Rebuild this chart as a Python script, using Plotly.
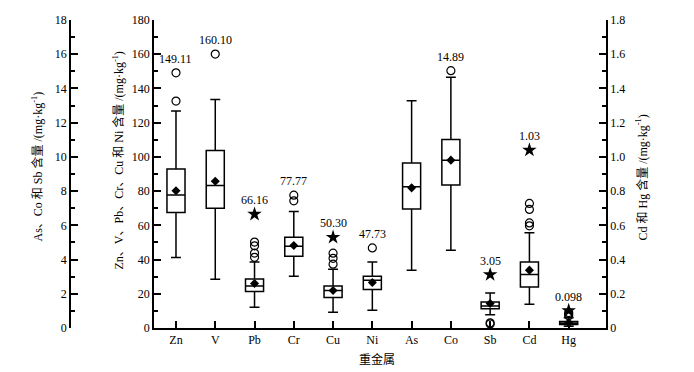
import plotly.graph_objects as go

# ---------------- data ----------------
elements = ["Zn", "V", "Pb", "Cr", "Cu", "Ni", "As", "Co", "Sb", "Cd", "Hg"]
axis_of = ["y", "y", "y", "y", "y", "y", "y2", "y2", "y2", "y3", "y3"]

q1 = [67.5, 70.0, 21.3, 42.0, 17.8, 22.5, 6.95, 8.35, 1.12, 0.24, 0.020]
median = [77.8, 83.3, 24.6, 47.8, 21.9, 27.9, 8.25, 9.81, 1.29, 0.312, 0.028]
q3 = [92.9, 103.8, 28.7, 53.1, 24.6, 30.3, 9.65, 11.02, 1.52, 0.386, 0.038]
lower_whisker = [41.2, 28.5, 12.1, 30.3, 9.2, 10.4, 3.38, 4.55, 0.78, 0.139, 0.010]
upper_whisker = [126.8, 133.6, 38.5, 68.1, 34.3, 38.6, 13.28, 14.65, 2.05, 0.556, 0.060]
mean = [80.2, 85.8, 26.0, 48.2, 21.9, 26.6, 8.19, 9.81, 1.43, 0.338, 0.030]

# outliers (open circles): (element index, value)
circle_el = [0, 0, 1, 2, 2, 2, 2, 3, 3, 4, 4, 4, 5, 7, 8, 8, 9, 9, 9, 9, 10, 10, 10]
circle_val = [149.11, 132.6, 160.10, 50.2, 48.0, 43.8, 41.3, 77.6, 74.3, 43.7, 40.7, 37.3,
              46.8, 15.04, 0.30, 0.24, 0.728, 0.693, 0.614, 0.597, 0.072, 0.082, 0.090]
# extreme values (stars)
star_el = [2, 4, 8, 9, 10]
star_val = [66.5, 53.0, 3.12, 1.04, 0.102]
# value labels
label_el = [0, 1, 2, 3, 4, 5, 7, 8, 9, 10]
label_val = [149.11, 160.10, 66.5, 77.6, 53.0, 46.8, 15.04, 3.12, 1.04, 0.102]
label_text = ["149.11", "160.10", "66.16", "77.77", "50.30", "47.73", "14.89", "3.05", "1.03", "0.098"]

FONT = "Liberation Serif, Times New Roman, Noto Sans CJK SC, serif"

fig = go.Figure()

for i, el in enumerate(elements):
    fig.add_trace(go.Box(
        x=[i], q1=[q1[i]], median=[median[i]], q3=[q3[i]],
        lowerfence=[lower_whisker[i]], upperfence=[upper_whisker[i]],
        width=0.46, whiskerwidth=0.55, boxpoints=False,
        line=dict(color="black", width=1.5), fillcolor="white",
        yaxis=axis_of[i], showlegend=False, hoverinfo="skip"))

for ax in ["y", "y2", "y3"]:
    idx = [i for i in range(len(elements)) if axis_of[i] == ax]
    fig.add_trace(go.Scatter(
        x=idx, y=[mean[i] for i in idx], mode="markers", yaxis=ax,
        marker=dict(symbol="diamond", size=7, color="black"), showlegend=False))
    ci = [k for k in range(len(circle_el)) if axis_of[circle_el[k]] == ax]
    fig.add_trace(go.Scatter(
        x=[circle_el[k] for k in ci], y=[circle_val[k] for k in ci], mode="markers", yaxis=ax,
        marker=dict(symbol="circle-open", size=8, color="black", line=dict(width=1.2)),
        showlegend=False))
    si = [k for k in range(len(star_el)) if axis_of[star_el[k]] == ax]
    fig.add_trace(go.Scatter(
        x=[star_el[k] for k in si], y=[star_val[k] for k in si], mode="markers", yaxis=ax,
        marker=dict(symbol="star", size=11, color="black"), showlegend=False))

for k in range(len(label_el)):
    ax = axis_of[label_el[k]]
    fig.add_annotation(x=label_el[k], y=label_val[k], xref="x", yref=ax,
                       text=label_text[k], showarrow=False, yshift=14,
                       xanchor="center", yanchor="middle",
                       font=dict(size=12, color="#000000", family=FONT))

axis_common = dict(showline=True, linecolor="black", linewidth=1.5, ticks="inside",
                   ticklen=7, tickwidth=1.5, tickcolor="black", showgrid=False,
                   zeroline=False, tickfont=dict(size=12, color="black", family=FONT))

# The page body adds an 8px offset, so the figure is sized/margined to compensate.
fig.update_layout(
    template="none",
    width=686, height=364,
    margin=dict(l=62, r=88, t=12, b=44),
    paper_bgcolor="white", plot_bgcolor="white",
    font=dict(family=FONT, size=12, color="black"),
    boxmode="overlay",
    xaxis=dict(domain=[84 / 536, 1], range=[-0.56, 10.95], tickmode="array",
               tickvals=list(range(len(elements))), ticktext=elements,
               **axis_common),
    yaxis=dict(range=[0, 180], dtick=20, anchor="x", side="left",
               minor=dict(dtick=10, ticks="inside", ticklen=4, tickwidth=1.5, tickcolor="black"),
               **axis_common),
    yaxis2=dict(range=[0, 18], dtick=2, anchor="free", position=0, side="left",
                overlaying="y",
                minor=dict(dtick=1, ticks="inside", ticklen=4, tickwidth=1.5, tickcolor="black"),
                **axis_common),
    yaxis3=dict(range=[0, 1.8], tickmode="array",
                tickvals=[0, 0.2, 0.4, 0.6, 0.8, 1.0, 1.2, 1.4, 1.6, 1.8],
                ticktext=["0", "0.2", "0.4", "0.6", "0.8", "1.0", "1.2", "1.4", "1.6", "1.8"],
                anchor="x", side="right", overlaying="y",
                minor=dict(dtick=0.1, ticks="inside", ticklen=4, tickwidth=1.5, tickcolor="black"),
                **axis_common),
)

titles = [
    ("As、Co 和 Sb 含量 /(mg·kg<sup>-1</sup>)", (37 - 70) / 536, (327 - 166) / 307),
    ("Zn、V、Pb、Cr、Cu 和 Ni 含量 /(mg·kg<sup>-1</sup>)", (118 - 70) / 536, (327 - 160) / 307),
    ("Cd 和 Hg 含量 /(mg·kg<sup>-1</sup>)", (642 - 70) / 536, (327 - 177) / 307),
]
for t, x, y in titles:
    fig.add_annotation(text=t, x=x, y=y, xref="paper", yref="paper", textangle=-90,
                       xanchor="center", yanchor="middle",
                       showarrow=False, font=dict(size=12, color="black", family=FONT))
fig.add_annotation(text="重金属", x=(377 - 70) / 536, y=(327 - 358) / 307, xref="paper",
                   yref="paper", xanchor="center", yanchor="middle", showarrow=False,
                   font=dict(size=12, color="black", family=FONT))

fig.write_html("out.html")
